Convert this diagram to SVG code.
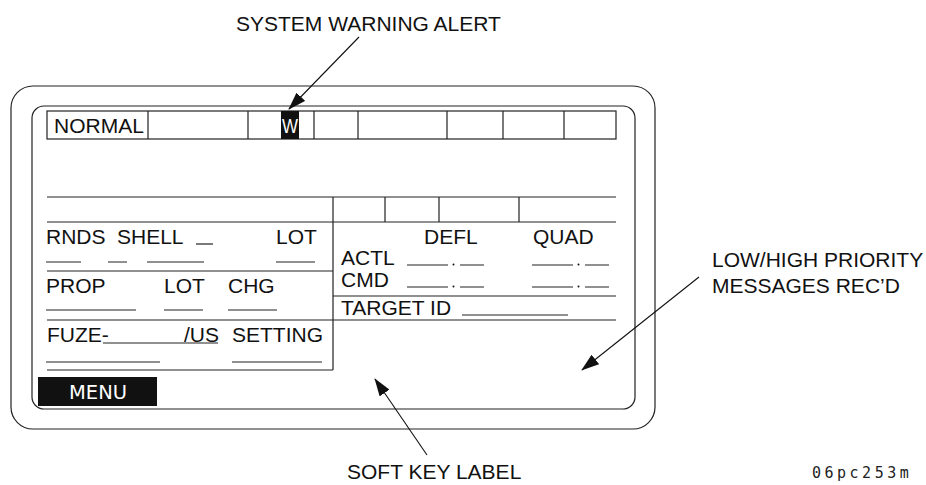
<svg xmlns="http://www.w3.org/2000/svg" width="926" height="485" viewBox="0 0 926 485">
<defs>
<style>
.ln{stroke:#222;stroke-width:1.2;fill:none}
.t{font-family:"Liberation Sans",Arial,sans-serif;font-size:21px;fill:#111}
.w{font-family:"Liberation Sans",Arial,sans-serif;font-size:21px;fill:#fff}
.m{font-family:"DejaVu Sans",Verdana,sans-serif;font-size:19.5px;fill:#fff}
.c{font-family:"DejaVu Sans Mono",monospace;font-size:15px;fill:#222;letter-spacing:3.5px}
</style>
<marker id="ah" markerWidth="18" markerHeight="12" refX="17" refY="6" orient="auto" markerUnits="userSpaceOnUse">
<path d="M0,0 L18,6 L0,12 Z" fill="#111"/>
</marker>
</defs>
<rect width="926" height="485" fill="#fff"/>

<g id="frame">
<rect class="ln" x="11" y="86" width="644" height="343" rx="22" ry="22"/>
<rect class="ln" x="32" y="106" width="603" height="303" rx="12" ry="12"/>
</g>

<g id="status-bar">
<rect class="ln" x="47" y="111" width="569" height="28"/>
<path class="ln" d="M148,111V139M248,111V139M314,111V139M358,111V139M447,111V139M503,111V139M564,111V139"/>
<text class="t" x="54" y="133">NORMAL</text>
<rect x="281" y="111" width="18" height="28" fill="#111"/>
<text class="w" x="282" y="133" textLength="16" lengthAdjust="spacingAndGlyphs">W</text>
</g>

<g id="mid-row">
<path class="ln" d="M47,197H616M47,222H616M333,197V222M385,197V222M439,197V222M519,197V222"/>
</g>

<g id="left-panel">
<path class="ln" d="M333,222V370M47,271H333M47,320H333M47,370H333"/>
<text class="t" x="46" y="244">RNDS</text>
<text class="t" x="117" y="244">SHELL</text>
<path class="ln" d="M196,244H213"/>
<text class="t" x="276" y="244">LOT</text>
<path class="ln" d="M46,262H81M108,262H127M147,262H204M276,262H315"/>
<text class="t" x="46" y="293">PROP</text>
<text class="t" x="164" y="293">LOT</text>
<text class="t" x="228" y="293">CHG</text>
<path class="ln" d="M46,310H136M164,310H203M228,310H277"/>
<text class="t" x="47" y="342">FUZE-</text>
<text class="t" x="184" y="342">/US</text>
<path class="ln" d="M103,343H218"/>
<text class="t" x="232" y="342">SETTING</text>
<path class="ln" d="M46,362H160M232,362H322"/>
</g>

<g id="right-panel">
<path class="ln" d="M333,296H616M333,320H616"/>
<text class="t" x="424" y="244">DEFL</text>
<text class="t" x="533" y="244">QUAD</text>
<text class="t" x="341" y="265">ACTL</text>
<text class="t" x="341" y="287">CMD</text>
<path class="ln" d="M407,265H448M460,265H484M532,265H573M585,265H609M407,287H448M460,287H484M532,287H573M585,287H609"/>
<g fill="#111"><circle cx="453.5" cy="264.5" r="1"/><circle cx="578.5" cy="264.5" r="1"/><circle cx="453.5" cy="286.5" r="1"/><circle cx="578.5" cy="286.5" r="1"/></g>
<text class="t" x="341" y="315">TARGET ID</text>
<path class="ln" d="M462,315H568"/>
</g>

<g id="menu-key">
<rect x="38" y="377" width="119" height="29" fill="#111"/>
<text class="m" x="69" y="399">MENU</text>
</g>

<g id="callouts">
<text class="t" x="236" y="31">SYSTEM WARNING ALERT</text>
<text class="t" x="712" y="267">LOW/HIGH PRIORITY</text>
<text class="t" x="712" y="293">MESSAGES REC’D</text>
<text class="t" x="347" y="479">SOFT KEY LABEL</text>
<text class="c" x="812" y="478">06pc253m</text>
</g>

<g id="connectors" stroke="#111" stroke-width="1.1" fill="none">
<line x1="359" y1="37" x2="289" y2="109" marker-end="url(#ah)"/>
<line x1="699" y1="277" x2="582" y2="370" marker-end="url(#ah)"/>
<line x1="427" y1="455" x2="375" y2="379" marker-end="url(#ah)"/>
</g>
</svg>
